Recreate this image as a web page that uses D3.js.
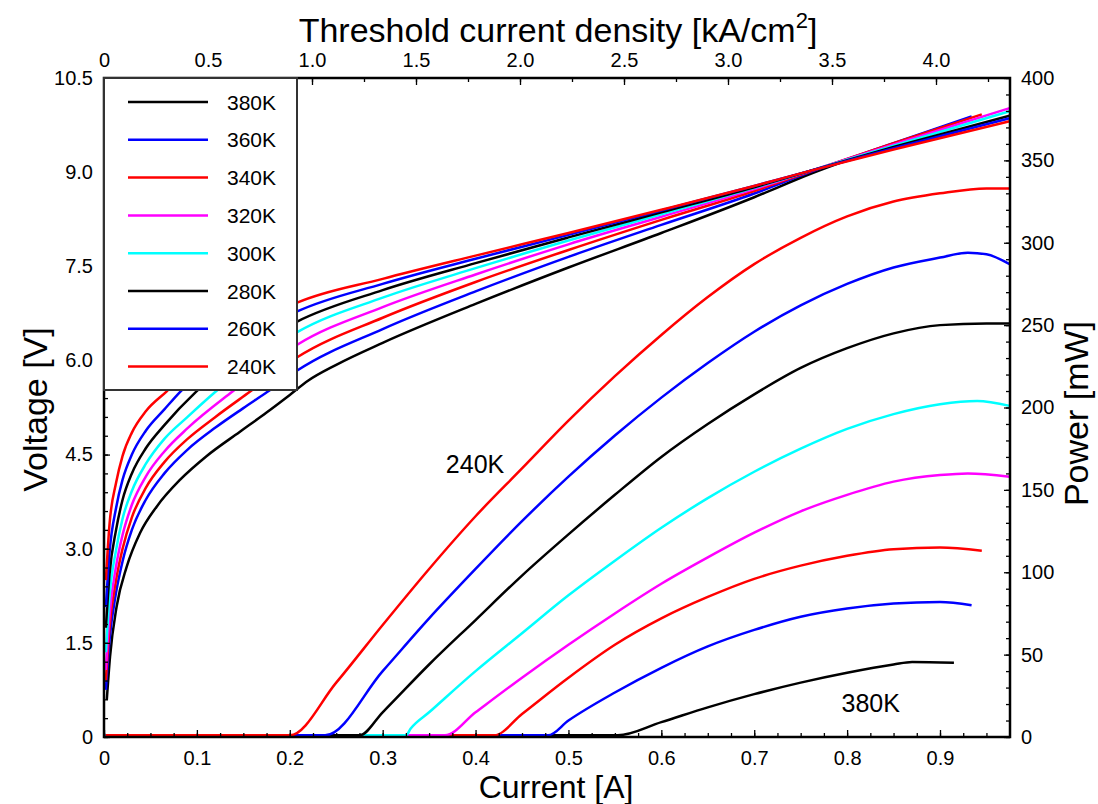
<!DOCTYPE html>
<html>
<head>
<meta charset="utf-8">
<script src="https://cdn.jsdelivr.net/npm/d3@7"></script>
<style>
  body { margin: 0; background: #fff; }
  svg text { font-family: "Liberation Sans", Arial, sans-serif; fill: #000; }
</style>
</head>
<body>
<div id="chart"></div>
<script>
// legend order, top to bottom
var temps = ["380K", "360K", "340K", "320K", "300K", "280K", "260K", "240K"];
var colors = ["#000000", "#0000ff", "#ff0000", "#ff00ff", "#00ffff", "#000000", "#0000ff", "#ff0000"];

// voltage curves: [current A, voltage V]
var v380 = [[0.003,0.59],[0.0065,1.28],[0.0136,2.08],[0.0244,2.71],[0.0388,3.25],[0.0567,3.67],[0.082,4.1],[0.11,4.47],[0.146,4.86],[0.175,5.17],[0.2,5.45],[0.22,5.68],[0.25,5.93],[0.3,6.28],[0.4,6.9],[0.5,7.48],[0.6,8.03],[0.7,8.6],[0.76,8.97],[0.85,9.45],[0.915,9.78]];
var v360 = [[0.002,0.75],[0.006,1.55],[0.013,2.3],[0.02,2.8],[0.03,3.3],[0.045,3.78],[0.065,4.2],[0.09,4.58],[0.12,4.93],[0.15,5.24],[0.176,5.5],[0.208,5.84],[0.3,6.5],[0.4,7.1],[0.5,7.65],[0.6,8.16],[0.7,8.66],[0.76,9.0],[0.85,9.46],[0.934,9.89]];
var v340 = [[0.002,0.9],[0.006,1.75],[0.013,2.5],[0.02,3.0],[0.03,3.5],[0.045,3.97],[0.065,4.38],[0.09,4.75],[0.12,5.1],[0.157,5.5],[0.208,6.05],[0.3,6.68],[0.4,7.25],[0.5,7.76],[0.6,8.24],[0.7,8.7],[0.76,9.01],[0.85,9.46],[0.945,9.92]];
var v320 = [[0.002,1.07],[0.006,1.95],[0.013,2.72],[0.02,3.22],[0.03,3.7],[0.045,4.15],[0.065,4.55],[0.09,4.92],[0.138,5.5],[0.17,5.86],[0.208,6.25],[0.3,6.85],[0.4,7.37],[0.5,7.85],[0.6,8.29],[0.7,8.73],[0.76,9.02],[0.85,9.44],[0.975,10.02]];
var v300 = [[0.002,1.35],[0.006,2.25],[0.013,2.98],[0.02,3.48],[0.03,3.92],[0.045,4.35],[0.065,4.75],[0.09,5.1],[0.12,5.5],[0.16,5.98],[0.208,6.45],[0.3,7.0],[0.4,7.47],[0.5,7.91],[0.6,8.33],[0.7,8.75],[0.76,9.02],[0.85,9.42],[0.975,9.97]];
var v280 = [[0.002,1.74],[0.006,2.6],[0.013,3.3],[0.02,3.78],[0.03,4.2],[0.045,4.6],[0.065,4.97],[0.099,5.5],[0.14,6.0],[0.208,6.62],[0.3,7.12],[0.4,7.55],[0.5,7.96],[0.6,8.36],[0.7,8.76],[0.76,9.02],[0.85,9.4],[0.975,9.9]];
var v260 = [[0.002,2.07],[0.006,2.95],[0.013,3.65],[0.02,4.1],[0.03,4.5],[0.045,4.88],[0.065,5.22],[0.082,5.5],[0.12,6.0],[0.16,6.4],[0.208,6.78],[0.3,7.22],[0.4,7.62],[0.5,8.0],[0.6,8.39],[0.7,8.78],[0.76,9.02],[0.85,9.38],[0.975,9.86]];
var v240 = [[0.002,2.5],[0.006,3.4],[0.013,4.05],[0.02,4.48],[0.03,4.85],[0.045,5.19],[0.067,5.5],[0.1,5.95],[0.14,6.37],[0.208,6.92],[0.3,7.3],[0.4,7.67],[0.5,8.03],[0.6,8.4],[0.7,8.78],[0.76,9.02],[0.85,9.36],[0.975,9.81]];

// optical power curves: [current A, power mW]
var p380 = [[0.002,1],[0.553,1],[0.6,9],[0.65,18],[0.7,26],[0.75,33],[0.8,39],[0.85,44],[0.87,45.5],[0.915,45]];
var p360 = [[0.002,1],[0.478,1],[0.5,10],[0.55,27],[0.6,42],[0.65,55],[0.7,65],[0.75,73],[0.8,78],[0.85,81],[0.9,82],[0.934,80]];
var p340 = [[0.002,1],[0.42,1],[0.45,14],[0.5,36],[0.55,56],[0.6,72],[0.65,85],[0.7,96],[0.75,104],[0.8,110],[0.85,114],[0.9,115],[0.945,113]];
var p320 = [[0.002,1],[0.367,1],[0.4,15],[0.45,36],[0.5,56],[0.55,75],[0.6,93],[0.65,109],[0.7,124],[0.75,137],[0.8,147],[0.85,155],[0.9,159],[0.93,160],[0.975,158]];
var p300 = [[0.002,1],[0.325,1],[0.33,5],[0.35,15],[0.4,40],[0.45,63],[0.5,86],[0.55,107],[0.6,127],[0.65,145],[0.7,161],[0.75,175],[0.8,187],[0.85,196],[0.9,202],[0.94,204],[0.975,201]];
var p280 = [[0.002,1],[0.275,1],[0.3,15],[0.35,44],[0.4,71],[0.45,98],[0.5,123],[0.55,147],[0.6,170],[0.65,190],[0.7,208],[0.75,224],[0.8,236],[0.85,245],[0.9,250],[0.95,251],[0.975,251]];
var p260 = [[0.002,1],[0.238,1],[0.3,40],[0.35,72],[0.4,102],[0.45,131],[0.5,158],[0.55,183],[0.6,206],[0.65,227],[0.7,246],[0.75,262],[0.8,275],[0.85,285],[0.9,291],[0.93,294],[0.95,293],[0.975,287]];
var p240 = [[0.002,1],[0.2,1],[0.25,33],[0.3,68],[0.35,102],[0.4,134],[0.45,163],[0.5,192],[0.55,219],[0.6,244],[0.65,267],[0.7,287],[0.75,303],[0.8,316],[0.85,325],[0.9,330],[0.95,333],[0.975,333]];

var voltCurves = [v380, v360, v340, v320, v300, v280, v260, v240];
var powerCurves = [p380, p360, p340, p320, p300, p280, p260, p240];

var currentTicks = [0, 0.1, 0.2, 0.3, 0.4, 0.5, 0.6, 0.7, 0.8, 0.9];
var densityTicks = [0, 0.5, 1.0, 1.5, 2.0, 2.5, 3.0, 3.5, 4.0];
var voltTicks = [0, 1.5, 3.0, 4.5, 6.0, 7.5, 9.0, 10.5];
var powerTicks = [0, 50, 100, 150, 200, 250, 300, 350, 400];

var annotations = [{text: "240K", x: 0.368, y: 160}, {text: "380K", x: 0.794, y: 15}];

var margin = {top: 78, left: 104, right: 88, bottom: 67},
    width = 1098 - margin.left - margin.right,
    height = 804 - margin.top - margin.bottom;

var svg = d3.select("#chart")
  .append("svg")
  .attr("width", 1098)
  .attr("height", 804)
  .append("g")
  .attr("transform", "translate(" + margin.left + "," + margin.top + ")");

// 0.9 A sits at 836 px, 0.5 kA/cm2 at 104 px
var xScale = d3.scaleLinear().domain([0, width / 836 * 0.9]).range([0, width]);
var xTop = d3.scaleLinear().domain([0, width / 104 * 0.5]).range([0, width]);
var yLeft = d3.scaleLinear().domain([0, 10.5]).range([height, 0]);
var yRight = d3.scaleLinear().domain([0, 400]).range([height, 0]);

function fmt1(d) { return d === 0 ? "0" : d.toFixed(1); }

function minors(step, max) {
  return d3.range(0, max + 1e-9, step);
}

// clip for the curves
svg.append("clipPath").attr("id", "clip")
  .append("rect").attr("width", width).attr("height", height);

var plot = svg.append("g").attr("clip-path", "url(#clip)");

var voltLine = d3.line()
  .x(function(d) { return xScale(d[0]); })
  .y(function(d) { return yLeft(d[1]); })
  .curve(d3.curveMonotoneX);

var powerLine = d3.line()
  .x(function(d) { return xScale(d[0]); })
  .y(function(d) { return yRight(d[1]); })
  .curve(d3.curveMonotoneX);

plot.selectAll(".power")
  .data(powerCurves)
  .enter().append("path")
  .attr("class", "power")
  .attr("d", powerLine)
  .attr("fill", "none")
  .attr("stroke", function(d, i) { return colors[i]; })
  .attr("stroke-width", 2.5);

plot.selectAll(".volt")
  .data(voltCurves)
  .enter().append("path")
  .attr("class", "volt")
  .attr("d", voltLine)
  .attr("fill", "none")
  .attr("stroke", function(d, i) { return colors[i]; })
  .attr("stroke-width", 2.5);

// axes, ticks pointing inward
function styleAxis(g, fontSize) {
  g.select(".domain").remove();
  g.selectAll("line").attr("stroke", "#000").attr("stroke-width", 1.3);
  g.selectAll("text").attr("font-size", fontSize).style("fill", "#000");
}

svg.append("g")
  .attr("transform", "translate(0," + height + ")")
  .call(d3.axisBottom(xScale).tickValues(minors(0.025, 0.975)).tickSize(-4).tickFormat(""))
  .call(styleAxis, 20);
svg.append("g")
  .attr("transform", "translate(0," + height + ")")
  .call(d3.axisBottom(xScale).tickValues(currentTicks).tickSize(-7).tickPadding(14).tickFormat(fmt1))
  .call(styleAxis, 20);

svg.append("g")
  .call(d3.axisTop(xTop).tickValues(minors(0.25, 4.35)).tickSize(-4).tickFormat(""))
  .call(styleAxis, 20);
svg.append("g")
  .call(d3.axisTop(xTop).tickValues(densityTicks).tickSize(-7).tickPadding(11).tickFormat(fmt1))
  .call(styleAxis, 20);

svg.append("g")
  .call(d3.axisLeft(yLeft).tickValues(minors(0.3, 10.5)).tickSize(-4).tickFormat(""))
  .call(styleAxis, 20);
svg.append("g")
  .call(d3.axisLeft(yLeft).tickValues(voltTicks).tickSize(-6).tickPadding(11).tickFormat(fmt1))
  .call(styleAxis, 20);

svg.append("g")
  .attr("transform", "translate(" + width + ",0)")
  .call(d3.axisRight(yRight).tickValues(minors(10, 400)).tickSize(-4).tickFormat(""))
  .call(styleAxis, 20);
svg.append("g")
  .attr("transform", "translate(" + width + ",0)")
  .call(d3.axisRight(yRight).tickValues(powerTicks).tickSize(-6).tickPadding(11).tickFormat(d3.format("d")))
  .call(styleAxis, 20);

// frame
svg.append("rect")
  .attr("width", width)
  .attr("height", height)
  .attr("fill", "none")
  .attr("stroke", "#000")
  .attr("stroke-width", 2.5);

// axis titles
svg.append("text")
  .attr("x", 452)
  .attr("y", height + 61)
  .attr("text-anchor", "middle")
  .attr("font-size", 32)
  .text("Current [A]");

var topTitle = svg.append("text")
  .attr("x", 454)
  .attr("y", -36)
  .attr("text-anchor", "middle")
  .attr("font-size", 34);
topTitle.append("tspan").text("Threshold current density [kA/cm");
topTitle.append("tspan").attr("font-size", 22).attr("dy", -14).text("2");
topTitle.append("tspan").attr("dy", 14).text("]");

svg.append("text")
  .attr("transform", "translate(-57," + (height / 2 + 2) + ") rotate(-90)")
  .attr("text-anchor", "middle")
  .attr("font-size", 34)
  .text("Voltage [V]");

svg.append("text")
  .attr("transform", "translate(" + (width + 78) + "," + (height / 2 + 6) + ") rotate(-90)")
  .attr("text-anchor", "middle")
  .attr("font-size", 34)
  .text("Power [mW]");

// curve annotations
svg.selectAll(".note")
  .data(annotations)
  .enter().append("text")
  .attr("class", "note")
  .attr("x", function(d) { return xScale(d.x); })
  .attr("y", function(d) { return yRight(d.y); })
  .attr("font-size", 25)
  .text(function(d) { return d.text; });

// legend
var legend = svg.append("g");
legend.append("rect")
  .attr("x", 0)
  .attr("y", 0)
  .attr("width", 193)
  .attr("height", 312)
  .attr("fill", "#fff")
  .attr("stroke", "#333")
  .attr("stroke-width", 2);

var item = legend.selectAll(".item")
  .data(temps)
  .enter().append("g")
  .attr("class", "item")
  .attr("transform", function(d, i) { return "translate(0," + (24 + i * 37.8) + ")"; });

item.append("line")
  .attr("x1", 24)
  .attr("x2", 104)
  .attr("stroke", function(d, i) { return colors[i]; })
  .attr("stroke-width", 2.5);

item.append("text")
  .attr("x", 123)
  .attr("dy", "0.36em")
  .attr("font-size", 21)
  .text(function(d) { return d; });
</script>
</body>
</html>
